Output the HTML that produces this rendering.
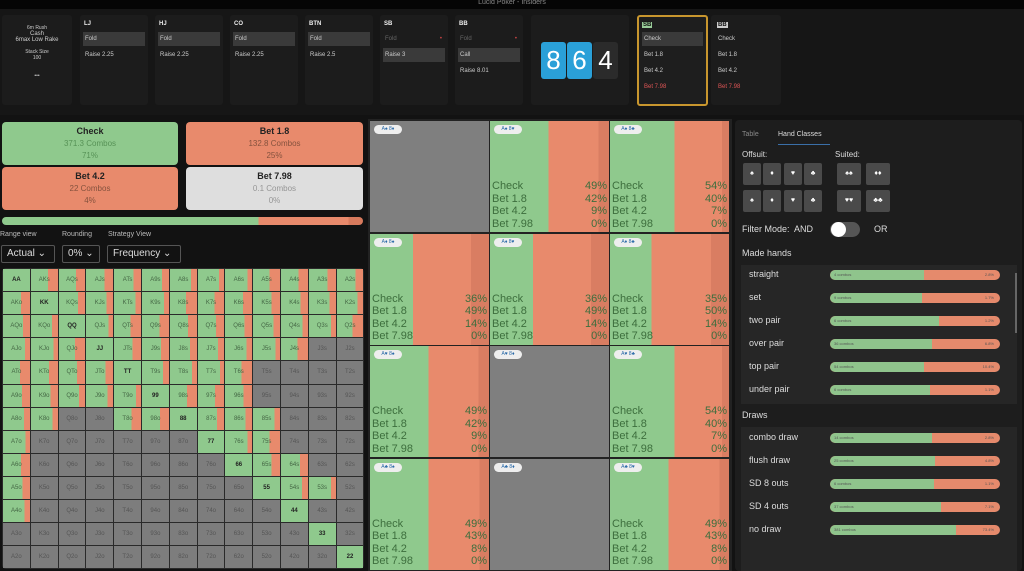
<!DOCTYPE html>
<html><head><meta charset="utf-8">
<style>
*{box-sizing:border-box;margin:0;padding:0}
body{width:1024px;height:571px;overflow:hidden;background:#121212;font-family:"Liberation Sans",sans-serif;color:#ddd;position:relative}
.abs{position:absolute}
.pan{position:absolute;background:#1c1c1c;border-radius:3px}
.pos{font-size:6px;font-weight:bold;color:#eee}
.opt{position:absolute;left:3px;right:3px;height:14px;font-size:6px;line-height:14px;padding-left:2px;color:#ccc}
.sel{background:#3a3a3a}
.card{position:absolute;top:42px;width:25px;height:37px;border-radius:3px;font-size:26px;line-height:37px;text-align:center;color:#fff}
.act{position:absolute;border-radius:4px;text-align:center;font-size:8px;color:#5a3a2a}
.act b{display:block;font-size:9px;color:#222;margin-top:4px}
.act div{margin-top:3px;opacity:.7}
.dd{position:absolute;top:245px;height:18px;border:1px solid #555;border-radius:2px;font-size:10px;line-height:16px;padding-left:5px;color:#ddd}
.lbl{position:absolute;top:231px;font-size:7px;color:#bbb}
#hg{position:absolute;left:2px;top:268px;width:362px;height:301px;background:#2a2a2a;border-radius:4px}
.hc{position:absolute;width:26.8px;height:22.2px;font-size:6px;text-align:center;line-height:22px;color:#446644}
.mc{position:absolute;width:119px;height:111px;overflow:hidden}
.mc .bd{position:absolute;left:4px;top:4px;width:28px;height:9px;border-radius:5px;background:#eee;font-size:5px;line-height:9px;text-align:center;color:#2a6aa8}
.mc .tx{position:absolute;left:2px;right:2px;bottom:2px;font-size:11px;line-height:12.4px;color:#3d6e3d}
.mc .tx span{float:right}
.row{position:absolute;left:749px;font-size:9px;color:#ddd}
.bar{position:absolute;left:830px;width:170px;height:10px;border-radius:5px;overflow:hidden;background:#e58a6c;font-size:4px;color:#555;line-height:10px;padding-left:4px}
.bar i{position:absolute;left:0;top:0;bottom:0;background:#8fc48c;border-radius:5px 0 0 5px}
.bar s{position:relative;text-decoration:none}
.sb{position:absolute;width:18px;height:22px;background:#4a4a4a;border-radius:2px;color:#fff;font-size:7px;text-align:center;line-height:22px}
</style></head><body>
<div class="abs" style="left:0;top:0;width:1024px;height:9px;background:#050505;font-size:7px;color:#888;text-align:center;line-height:6px">Lucid Poker - Insiders</div>
<div class="abs" style="left:0;top:9px;width:1024px;height:106px;background:#161616"></div>
<div class="pan" style="left:2px;top:15px;width:70px;height:90px;text-align:center;font-size:5px;color:#ccc;padding-top:10px">6m Rush<br><span style="font-size:6px">Cash<br>6max Low Rake</span><br><br>Stack Size<br>100<br><br><br>•••</div>
<div class="pan" style="left:80px;top:15px;width:68px;height:90px"><div class="pos abs" style="left:4px;top:6px">LJ</div><div class="opt sel" style="top:17px">Fold</div><div class="opt" style="top:33px">Raise 2.25</div></div>
<div class="pan" style="left:155px;top:15px;width:68px;height:90px"><div class="pos abs" style="left:4px;top:6px">HJ</div><div class="opt sel" style="top:17px">Fold</div><div class="opt" style="top:33px">Raise 2.25</div></div>
<div class="pan" style="left:230px;top:15px;width:68px;height:90px"><div class="pos abs" style="left:4px;top:6px">CO</div><div class="opt sel" style="top:17px">Fold</div><div class="opt" style="top:33px">Raise 2.25</div></div>
<div class="pan" style="left:305px;top:15px;width:68px;height:90px"><div class="pos abs" style="left:4px;top:6px">BTN</div><div class="opt sel" style="top:17px">Fold</div><div class="opt" style="top:33px">Raise 2.5</div></div>
<div class="pan" style="left:380px;top:15px;width:68px;height:90px"><div class="pos abs" style="left:4px;top:6px">SB</div><div class="opt" style="top:17px;color:#666">Fold<span style="float:right;color:#c44;margin-right:3px">•</span></div><div class="opt sel" style="top:33px">Raise 3</div></div>
<div class="pan" style="left:455px;top:15px;width:68px;height:90px"><div class="pos abs" style="left:4px;top:6px">BB</div><div class="opt" style="top:17px;color:#666">Fold<span style="float:right;color:#c44;margin-right:3px">•</span></div><div class="opt sel" style="top:33px">Call</div><div class="opt" style="top:49px">Raise 8.01</div></div>
<div class="pan" style="left:531px;top:15px;width:98px;height:90px"></div>
<div class="card" style="left:541px;background:#2aa0d8">8</div>
<div class="card" style="left:567px;background:#2aa0d8">6</div>
<div class="card" style="left:593px;background:#2b2b2b">4</div>
<div class="pan" style="left:637px;top:15px;width:71px;height:91px;border:2px solid #c8962e;background:#1e1e1e"><div class="pos abs" style="left:3px;top:5px;background:#9c9;color:#111;padding:0 1px">SB</div><div class="opt sel" style="top:15px">Check</div><div class="opt" style="top:31px">Bet 1.8</div><div class="opt" style="top:47px">Bet 4.2</div><div class="opt" style="top:63px;color:#d55">Bet 7.98</div></div>
<div class="pan" style="left:711px;top:15px;width:70px;height:90px"><div class="pos abs" style="left:6px;top:7px;background:#ccc;color:#111;padding:0 1px">BB</div><div class="opt" style="top:17px;left:5px">Check</div><div class="opt" style="top:33px;left:5px">Bet 1.8</div><div class="opt" style="top:49px;left:5px">Bet 4.2</div><div class="opt" style="top:65px;left:5px;color:#d55">Bet 7.98</div></div>

<div class="act" style="left:2px;top:122px;width:176px;height:43px;background:#8fc98d;color:#3f7a3f"><b>Check</b><div>371.3 Combos</div><div>71%</div></div>
<div class="act" style="left:186px;top:122px;width:177px;height:43px;background:#e88a6c"><b>Bet 1.8</b><div>132.8 Combos</div><div>25%</div></div>
<div class="act" style="left:2px;top:167px;width:176px;height:43px;background:#e88a6c"><b>Bet 4.2</b><div>22 Combos</div><div>4%</div></div>
<div class="act" style="left:186px;top:167px;width:177px;height:43px;background:#dedede;color:#777"><b>Bet 7.98</b><div>0.1 Combos</div><div>0%</div></div>
<div class="abs" style="left:2px;top:217px;width:361px;height:8px;border-radius:4px;background:linear-gradient(90deg,#8fc98d 0 71%,#e88a6c 71% 96%,#d77a5d 96%)"></div>
<div class="lbl" style="left:0">Range view</div><div class="lbl" style="left:62px">Rounding</div><div class="lbl" style="left:108px">Strategy View</div>
<div class="dd" style="left:1px;width:54px">Actual ⌄</div>
<div class="dd" style="left:62px;width:38px">0% ⌄</div>
<div class="dd" style="left:107px;width:74px">Frequency ⌄</div>
<div id="hg"></div>
<div id="mg" class="abs" style="left:368px;top:119px;width:364px;height:452px;background:#222"></div>

<div class="abs" style="left:735px;top:120px;width:287px;height:451px;background:#1d1d1d;border-radius:4px"></div>
<div class="abs" style="left:742px;top:131px;font-size:7px;color:#888">Table</div>
<div class="abs" style="left:778px;top:131px;font-size:7px;color:#ddd">Hand Classes</div>
<div class="abs" style="left:778px;top:144px;width:52px;height:1px;background:#3a6fa8"></div>
<div class="abs" style="left:742px;top:150px;font-size:8px">Offsuit:</div>
<div class="abs" style="left:835px;top:150px;font-size:8px">Suited:</div>
<div class="sb" style="left:743px;top:163px">♠</div><div class="sb" style="left:763px;top:163px">♦</div><div class="sb" style="left:784px;top:163px">♥</div><div class="sb" style="left:804px;top:163px">♣</div>
<div class="sb" style="left:743px;top:190px">♠</div><div class="sb" style="left:763px;top:190px">♦</div><div class="sb" style="left:784px;top:190px">♥</div><div class="sb" style="left:804px;top:190px">♣</div>
<div class="sb" style="left:837px;top:163px;width:24px">♠♠</div><div class="sb" style="left:866px;top:163px;width:24px">♦♦</div>
<div class="sb" style="left:837px;top:190px;width:24px">♥♥</div><div class="sb" style="left:866px;top:190px;width:24px">♣♣</div>
<div class="abs" style="left:742px;top:224px;font-size:9px">Filter Mode:&nbsp; AND</div>
<div class="abs" style="left:830px;top:222px;width:30px;height:15px;border-radius:8px;background:#555"></div>
<div class="abs" style="left:831px;top:222px;width:15px;height:15px;border-radius:8px;background:#fff"></div>
<div class="abs" style="left:874px;top:224px;font-size:9px">OR</div>
<div class="abs" style="left:742px;top:248px;font-size:9px">Made hands</div>
<div class="abs" style="left:741px;top:265px;width:276px;height:139px;background:#262626"></div>
<div class="abs" style="left:1015px;top:273px;width:2px;height:60px;background:#666"></div>
<div class="abs" style="left:742px;top:410px;font-size:9px">Draws</div>
<div class="abs" style="left:741px;top:427px;width:276px;height:144px;background:#262626"></div>
<div id="rows"></div>
<script>
var R="AKQJT98765432",g=document.getElementById('hg'),h='';
var gray={3:[11,12],4:[9,10,11,12],5:[9,10,11,12],6:[2,3,10,11,12],7:[1,2,3,4,5,6,10,11,12],8:[1,2,3,4,5,6,7,11,12],9:[1,2,3,4,5,6,7,8,12],10:[1,2,3,4,5,6,7,8,9,11,12],11:[0,1,2,3,4,5,6,7,8,9,10,12],12:[0,1,2,3,4,5,6,7,8,9,10,11]};
for(var i=0;i<13;i++)for(var j=0;j<13;j++){
 var l=i==j?R[i]+R[j]:(i<j?R[i]+R[j]+'s':R[j]+R[i]+'o');
 var isg=gray[i]&&gray[i].indexOf(j)>=0;
 var f=i==j?100:(60+((i*7+j*3)%25));
 var bg=isg?'#7d7d7d':'linear-gradient(90deg,#8fc98d 0 '+f+'%,#e88a6c '+f+'%)';
 h+='<div class="hc" style="left:'+(1+j*27.8)+'px;top:'+(1+i*23.1)+'px;background:'+bg+';'+(i==j?'font-weight:bold;color:#222':'')+(isg?';color:#555':'')+'">'+l+'</div>';
}
g.innerHTML=h;
var M=[[null,[49,42,9,0],[54,40,7,0]],[[36,49,14,0],[36,49,14,0],[35,50,14,0]],[[49,42,9,0],null,[54,40,7,0]],[[49,43,8,0],null,[49,43,8,0]]];
var B=[["A♠ 8♦","A♠ 8♥","A♠ 8♣"],["A♦ 8♠","A♦ 8♥","A♦ 8♣"],["A♥ 8♠","A♥ 8♦","A♥ 8♣"],["A♣ 8♠","A♣ 8♦","A♣ 8♥"]];
var mg=document.getElementById('mg'),m='';
for(var r=0;r<4;r++)for(var c=0;c<3;c++){
 var d=M[r][c],s='left:'+(2+c*120)+'px;top:'+(2+r*112.5)+'px;';
 if(!d){s+='background:#7f7f7f';m+='<div class="mc" style="'+s+'"><div class="bd">'+B[r][c]+'</div></div>';continue;}
 var a=d[0],b=a+d[1];
 s+='background:linear-gradient(90deg,#8fc98d 0 '+a+'%,#e88a6c '+a+'% '+b+'%,#d97d62 '+b+'%)';
 m+='<div class="mc" style="'+s+'"><div class="bd">'+B[r][c]+'</div><div class="tx">Check<span>'+d[0]+'%</span><br>Bet 1.8<span>'+d[1]+'%</span><br>Bet 4.2<span>'+d[2]+'%</span><br>Bet 7.98<span>'+d[3]+'%</span></div></div>';
}
mg.innerHTML=m;
var L=[["straight",55,"4 combos","2.8%",274],["set",54,"9 combos","1.7%",297],["two pair",64,"6 combos","1.2%",320],["over pair",60,"36 combos","6.8%",343],["top pair",55,"54 combos","10.4%",366],["under pair",59,"6 combos","1.1%",389],["combo draw",60,"14 combos","2.8%",437],["flush draw",62,"25 combos","4.8%",460],["SD 8 outs",61,"6 combos","1.1%",483],["SD 4 outs",65,"37 combos","7.1%",506],["no draw",74,"381 combos","73.4%",529]];
var o='';L.forEach(function(x){o+='<div class="row" style="top:'+(x[4]-5)+'px">'+x[0]+'</div><div class="bar" style="top:'+(x[4]-4)+'px"><i style="width:'+x[1]+'%"></i><s>'+x[2]+'</s><s style="position:absolute;right:6px">'+x[3]+'</s></div>';});
document.getElementById('rows').innerHTML=o;
</script>
</body></html>
